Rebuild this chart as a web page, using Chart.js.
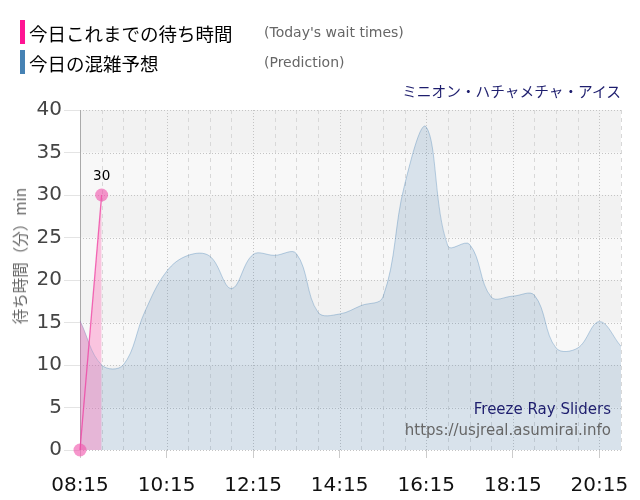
<!DOCTYPE html>
<html><head><meta charset="utf-8">
<script src="https://cdn.jsdelivr.net/npm/chart.js@4/dist/chart.umd.min.js"></script>
<style>
html,body{margin:0;padding:0;background:#fff;}
#wrap{position:relative;width:640px;height:500px;overflow:hidden;}
canvas{position:absolute;left:0;top:0;}
.t{position:absolute;white-space:nowrap;}
.bar{position:absolute;width:5px;height:24px;}
</style></head><body>
<div id="wrap">
<canvas id="c" width="640" height="500"></canvas>
<div class="bar" style="left:20px;top:20px;background:#ff1493"></div>
<div class="bar" style="left:20px;top:50px;background:#4682b4"></div>
<div class="t" id="lg1" style="left:29px;top:20px;height:24px;line-height:24px;font:18.5px 'Noto Sans CJK JP';color:#000"></div>
<div class="t" id="lg1e" style="left:264px;top:24px;height:22px;line-height:22px;font:14px 'DejaVu Sans';color:#666"></div>
<div class="t" id="lg2" style="left:29px;top:50px;height:24px;line-height:24px;font:18.5px 'Noto Sans CJK JP';color:#000"></div>
<div class="t" id="lg2e" style="left:264px;top:54px;height:22px;line-height:22px;font:14px 'DejaVu Sans';color:#666"></div>
<div class="t" id="title" style="right:19px;top:80px;height:20px;line-height:20px;font:14.7px 'Noto Sans CJK JP';color:#1e1e6e"></div>
<div class="t" id="wm1" style="right:29px;top:400px;height:20px;line-height:20px;font:15px 'DejaVu Sans';color:#1e1e6e"></div>
<div class="t" id="wm2" style="right:29px;top:421px;height:20px;line-height:20px;font:15px 'DejaVu Sans';color:#666"></div>
<div class="t" id="ytitle" style="left:18px;top:256px;height:20px;line-height:20px;font:15.5px 'Noto Sans CJK JP';color:#666;transform:translate(-50%,-50%) rotate(-90deg);transform-origin:center;"></div>
</div>
<script>
// ---- data ----
const timeLabels = ['08:15','08:45','09:15','09:45','10:15','10:45','11:15','11:45','12:15','12:45','13:15','13:45','14:15','14:45','15:15','15:45','16:15','16:45','17:15','17:45','18:15','18:45','19:15','19:45','20:15','20:45'];
const predictionWait = [15.2,10,10,16.3,21,22.9,22.8,19,23,22.9,23.1,16.2,16,17,18,31.2,38,24,24.2,18,18.1,18.2,12,12,15.1,12.2];
const actualWait = [0,30];
const yTickStep = 5;
const yMax = 40;
const legendTexts = ['今日これまでの待ち時間','(Today\'s wait times)','今日の混雑予想','(Prediction)'];
const attractionName = 'ミニオン・ハチャメチャ・アイス';
const rideName = 'Freeze Ray Sliders';
const siteUrl = 'https://usjreal.asumirai.info';
const yAxisTitle = '待ち時間（分）min';

document.getElementById('lg1').textContent = legendTexts[0];
document.getElementById('lg1e').textContent = legendTexts[1];
document.getElementById('lg2').textContent = legendTexts[2];
document.getElementById('lg2e').textContent = legendTexts[3];
document.getElementById('title').textContent = attractionName;
document.getElementById('wm1').textContent = rideName;
document.getElementById('wm2').textContent = siteUrl;
document.getElementById('ytitle').textContent = yAxisTitle;

const pinkFill = 'rgba(255,105,180,0.36)';

const bgPlugin = {
  id: 'bgGrid',
  beforeDatasetsDraw(chart) {
    const {ctx, chartArea: a, scales: {x, y}} = chart;
    ctx.save();
    for (let v = 0; v < yMax; v += yTickStep) {
      const top = y.getPixelForValue(v + yTickStep), bot = y.getPixelForValue(v);
      ctx.fillStyle = ((v / yTickStep) % 2) ? '#f2f2f2' : '#f8f8f8';
      ctx.fillRect(a.left, top, a.right - a.left, bot - top);
    }
    ctx.lineWidth = 1;
    for (let i = 0; i < timeLabels.length; i++) {
      const px = Math.round(x.getPixelForValue(i)) + 0.5;
      if (i % 4 === 0) { ctx.strokeStyle = '#c4c4c4'; ctx.setLineDash([1, 2]); }
      else { ctx.strokeStyle = '#d8d8d8'; ctx.setLineDash([4, 4]); }
      ctx.beginPath(); ctx.moveTo(px, a.top); ctx.lineTo(px, a.bottom); ctx.stroke();
    }
    ctx.strokeStyle = '#c4c4c4'; ctx.setLineDash([1, 2]);
    for (let v = 0; v <= yMax; v += yTickStep) {
      const py = Math.round(y.getPixelForValue(v)) + 0.5;
      ctx.beginPath(); ctx.moveTo(a.left, py); ctx.lineTo(a.right, py); ctx.stroke();
    }
    ctx.setLineDash([]);
    ctx.strokeStyle = '#aaaaaa';
    const lx = Math.round(a.left) + 0.5;
    ctx.beginPath(); ctx.moveTo(lx, a.top); ctx.lineTo(lx, a.bottom); ctx.stroke();
    ctx.restore();
  },
  afterDatasetsDraw(chart) {
    const meta = chart.getDatasetMeta(0);
    const last = meta.data[meta.data.length - 1];
    if (!last) return;
    const {ctx} = chart;
    ctx.save();
    ctx.font = '13.5px "DejaVu Sans"';
    ctx.fillStyle = '#000';
    ctx.textAlign = 'center';
    ctx.textBaseline = 'middle';
    ctx.fillText(String(actualWait[actualWait.length - 1]), last.x, last.y - 19);
    ctx.restore();
  }
};

new Chart(document.getElementById('c'), {
  type: 'line',
  data: {
    labels: timeLabels,
    datasets: [
      {
        label: 'actual',
        data: actualWait,
        order: 1,
        clip: false,
        borderColor: 'rgba(240,60,160,0.75)',
        borderWidth: 1.3,
        pointRadius: 6.5,
        pointBackgroundColor: 'rgba(240,80,170,0.6)',
        pointBorderWidth: 0,
        tension: 0,
        fill: {target: 2, above: pinkFill, below: 'rgba(0,0,0,0)'}
      },
      {
        label: 'elapsed',
        data: predictionWait,
        order: 2,
        borderWidth: 0,
        borderColor: 'rgba(0,0,0,0)',
        pointRadius: 0,
        tension: 0.38,
        fill: 'origin',
        backgroundColor: pinkFill,
        segment: {
          backgroundColor: c => (c.p1DataIndex <= actualWait.length - 1) ? pinkFill : 'rgba(0,0,0,0)'
        }
      },
      {
        label: 'prediction',
        data: predictionWait,
        order: 3,
        borderColor: 'rgba(70,130,180,0.35)',
        borderWidth: 1,
        backgroundColor: 'rgba(70,130,180,0.18)',
        pointRadius: 0,
        tension: 0.38,
        fill: 'origin'
      }
    ]
  },
  options: {
    responsive: false,
    animation: false,
    layout: {padding: {top: 110, right: 19, left: 0, bottom: 0}},
    plugins: {legend: {display: false}, tooltip: {enabled: false}},
    scales: {
      x: {
        type: 'category',
        offset: false,
        grid: {display: true, drawOnChartArea: false, drawTicks: true, tickLength: 8,
               tickColor: c => (c.index % 4 === 0) ? '#cccccc' : 'rgba(0,0,0,0)'},
        border: {display: false},
        ticks: {autoSkip: false, maxRotation: 0, minRotation: 0, padding: 16, color: '#111',
                font: {family: 'DejaVu Sans', size: 20},
                callback: (v, i) => (i % 4 === 0) ? timeLabels[i] : ''},
        afterFit: s => { s.height = 50; }
      },
      y: {
        min: 0, max: yMax,
        ticks: {stepSize: yTickStep, padding: 2, color: '#444', font: {family: 'DejaVu Sans', size: 20}},
        grid: {display: true, drawOnChartArea: false, drawTicks: true, tickLength: 16, tickColor: '#e4e4e4'},
        border: {display: false},
        afterFit: s => { s.width = 80; }
      }
    }
  },
  plugins: [bgPlugin]
});
</script>
</body></html>
